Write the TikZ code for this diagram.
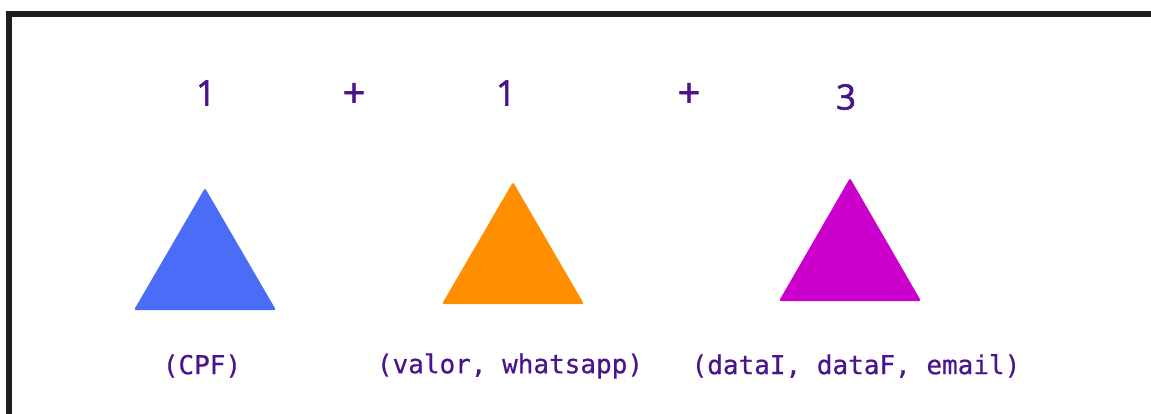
\documentclass[tikz,border=0pt]{standalone}
\usepackage{fontspec}
\newfontfamily\numfont{Open Sans}[FakeBold=1.6]
\newfontfamily\monofont{DejaVu Sans Mono}[FakeBold=0.6]
\definecolor{txt}{HTML}{4A148C}
\definecolor{tblue}{HTML}{4A6CF7}
\definecolor{torange}{HTML}{FF8F00}
\definecolor{tmag}{HTML}{CC00CC}
\definecolor{frame}{HTML}{1E1E1E}
\tikzset{
  num/.style={text=txt, font=\numfont\fontsize{35}{40}\selectfont, inner sep=0pt, anchor=center},
  plus/.style={num, font=\numfont\fontsize{40}{44}\selectfont},
  lbl/.style={text=txt, font=\monofont\fontsize{26}{30}\selectfont, inner sep=0pt, anchor=center},
  tri/.style={rounded corners=2pt, line join=round}
}
\begin{document}
\begin{tikzpicture}[x=1pt,y=-1pt]
\useasboundingbox (0,0) rectangle (1151,414);
\begin{scope}
\clip (0,0) rectangle (1151,414);
\draw[frame, line width=6pt] (9,14) rectangle (1250,500);
\end{scope}
% numbers
\node[num] (n1) at (206,93) {1};
\node[plus] (p1) at (354,95) {+};
\node[num] (n2) at (506,93) {1};
\node[plus] (p2) at (689,95) {+};
\node[num] (n3) at (846,97) {3};
% triangles
\fill[tblue, tri] (205,188) -- (276,310) -- (134,310) -- cycle;
\fill[torange, tri] (513,182) -- (584,304) -- (442,304) -- cycle;
\fill[tmag, tri] (850,178) -- (921,301) -- (779,301) -- cycle;
% labels
\node[lbl] (l1) at (202,366) {(CPF)};
\node[lbl] (l2) at (510,366) {(valor, whatsapp)};
\node[lbl] (l3) at (856,366) {(dataI, dataF, email)};
\end{tikzpicture}
\end{document}
